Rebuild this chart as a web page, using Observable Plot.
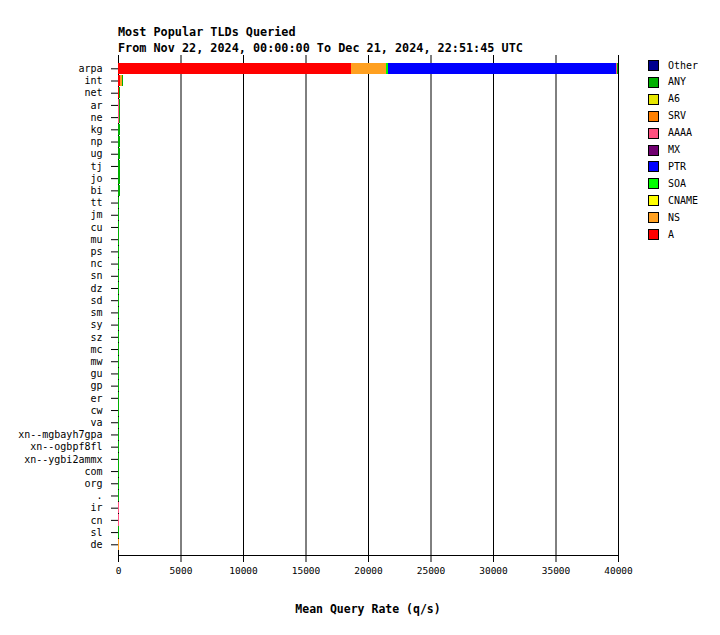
<!DOCTYPE html>
<html>
<head>
<meta charset="utf-8">
<script src="https://cdn.jsdelivr.net/npm/d3@7"></script>
<script src="https://cdn.jsdelivr.net/npm/@observablehq/plot@0.6"></script>
<style>
  body { margin: 0; background: #fff; }
  #wrap { position: relative; width: 720px; height: 635px; font-family: "DejaVu Sans Mono", monospace; color: #000; }
  #wrap svg { position: absolute; left: 0; top: 0; }
  .title { position: absolute; left: 118px; font-weight: bold; font-size: 11.8px; line-height: 14px; white-space: nowrap; }
  .xlabel { position: absolute; left: 268px; width: 200px; text-align: center; top: 602px; font-weight: bold; font-size: 11.5px; line-height: 14px; white-space: nowrap; }
  .lg-sw { position: absolute; left: 648px; width: 11px; height: 11px; box-sizing: border-box; border: 1px solid #000; }
  .lg-tx { position: absolute; left: 668px; font-size: 10px; line-height: 12px; white-space: nowrap; }
</style>
</head>
<body>
<div id="wrap">
  <div class="title" style="top:25px">Most Popular TLDs Queried</div>
  <div class="title" style="top:41px">From Nov 22, 2024, 00:00:00 To Dec 21, 2024, 22:51:45 UTC</div>
  <div class="xlabel">Mean Query Rate (q/s)</div>
</div>
<script>
// Categories (top to bottom)
const tlds = ["arpa","int","net","ar","ne","kg","np","ug","tj","jo","bi","tt","jm","cu","mu","ps","nc","sn","dz","sd","sm","sy","sz","mc","mw","gu","gp","er","cw","va","xn--mgbayh7gpa","xn--ogbpf8fl","xn--ygbi2ammx","com","org",".","ir","cn","sl","de"];

// Query types (stack order, left to right) and their colours
const types = ["A","NS","CNAME","SOA","PTR","MX","AAAA","SRV","A6","ANY","Other"];
const typeColors = ["#ff0000","#ffa020","#ffff00","#00ff00","#0000ff","#700070","#ff5080","#ff8000","#e6e600","#00b000","#000090"];

// Series values (q/s), aligned with tlds
const valA     = [18640,160,80,0,0,0,0,0,0,0,0,0,0,0,0,0,0,0,0,0,0,0,0,0,0,0,0,0,0,0,0,0,0,0,0,0,0,0,0,0];
const valNS    = [2800,160,0,0,0,0,0,0,0,0,0,0,0,0,0,0,0,0,0,0,0,0,0,0,0,0,0,0,0,0,0,0,0,0,0,0,0,0,0,75];
const valCNAME = [0,0,0,0,0,0,0,0,0,0,0,0,0,0,0,0,0,0,0,0,0,0,0,0,0,0,0,0,0,0,0,0,0,0,0,0,0,0,0,0];
const valSOA   = [130,0,0,0,0,0,0,0,0,0,0,0,0,0,0,0,0,0,0,0,0,0,0,0,0,0,0,0,0,0,0,0,0,0,0,0,0,0,0,0];
const valPTR   = [18260,0,0,0,0,0,0,0,0,0,0,0,0,0,0,0,0,0,0,0,0,0,0,0,0,0,0,0,0,0,0,0,0,0,0,0,0,0,0,0];
const valMX    = [0,0,0,0,0,0,0,0,0,0,0,0,0,0,0,0,0,0,0,0,0,0,0,0,0,0,0,0,0,0,0,0,0,0,0,0,0,0,0,0];
const valAAAA  = [80,0,0,80,75,0,0,0,0,0,0,0,0,0,0,0,0,0,0,0,0,0,0,0,0,0,0,0,0,0,0,0,0,0,0,0,85,80,0,0];
const valSRV   = [0,0,0,0,0,0,0,0,0,0,0,0,0,0,0,0,0,0,0,0,0,0,0,0,0,0,0,0,0,0,0,0,0,0,0,0,0,0,0,0];
const valA6    = [0,0,0,0,0,0,0,0,0,0,0,0,0,0,0,0,0,0,0,0,0,0,0,0,0,0,0,0,0,0,0,0,0,0,0,0,0,0,0,0];
const valANY   = [100,80,80,70,70,130,128,126,124,122,120,118,116,114,112,110,108,106,104,102,100,99,98,97,96,95,94,93,92,91,90,89,88,87,86,85,0,0,80,0];
const valOther = [0,0,0,0,0,0,0,0,0,0,0,0,0,0,0,0,0,0,0,0,0,0,0,0,0,0,0,0,0,0,0,0,0,0,0,0,0,0,0,0];

// X tick values
const xTicks = [0,5000,10000,15000,20000,25000,30000,35000,40000];

const series = {A: valA, NS: valNS, CNAME: valCNAME, SOA: valSOA, PTR: valPTR, MX: valMX, AAAA: valAAAA, SRV: valSRV, A6: valA6, ANY: valANY, Other: valOther};
const rows = [];
tlds.forEach((t, i) => {
  types.forEach(k => {
    const v = series[k][i];
    if (v > 0) rows.push({tld: t, type: k, value: v});
  });
});

const chart = Plot.plot({
  width: 720,
  height: 635,
  marginLeft: 118,
  marginRight: 102,
  marginTop: 55,
  marginBottom: 80,
  style: {fontFamily: "DejaVu Sans Mono", fontSize: "10px", color: "#000", background: "transparent"},
  x: {domain: [0, 40000]},
  y: {domain: tlds, range: [62.2, 550.4], paddingInner: 0.07, paddingOuter: 0.035, round: false},
  color: {domain: types, range: typeColors},
  marks: [
    Plot.ruleX(xTicks, {stroke: "#000", strokeWidth: 1}),
    Plot.barX(rows, Plot.stackX({x: "value", y: "tld", fill: "type", order: types, shapeRendering: "crispEdges"})),
    Plot.axisX({ticks: xTicks, tickSize: 7, tickPadding: 5, tickFormat: d => String(d), label: null, fontSize: 9.5, stroke: "#000"}),
    Plot.axisY({tickSize: 7, tickPadding: 9, label: null, fontSize: 10, stroke: "#000"}),
    Plot.frame({anchor: "bottom", stroke: "#000"})
  ]
});
const wrap = document.getElementById("wrap");
wrap.insertBefore(chart, wrap.firstChild);

// Legend (reverse of stack order, Other at top)
const legendTypes = types.slice().reverse();
legendTypes.forEach((k, i) => {
  const top = 60 + i * 16.9;
  const sw = document.createElement("div");
  sw.className = "lg-sw";
  sw.style.top = top + "px";
  sw.style.background = typeColors[types.indexOf(k)];
  wrap.appendChild(sw);
  const tx = document.createElement("div");
  tx.className = "lg-tx";
  tx.style.top = (top - 0.5) + "px";
  tx.textContent = k;
  wrap.appendChild(tx);
});
</script>
</body>
</html>
